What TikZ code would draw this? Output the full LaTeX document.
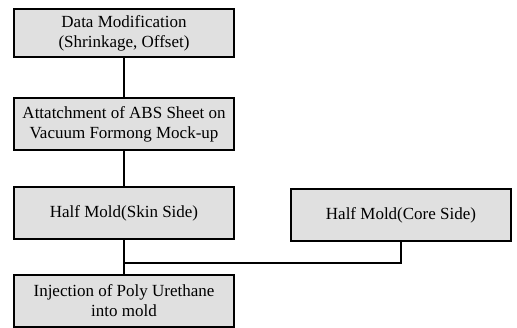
\documentclass[tikz,border=0pt]{standalone}
\usepackage{fontspec}
\setmainfont{Liberation Serif}
\usepackage{tikz}

\begin{document}
\begin{tikzpicture}[x=1pt,y=1pt,yscale=-1,xscale=1,
  stepbox/.style={draw=black,line width=1.2pt,fill=black!12,rectangle,
    minimum width=220pt,minimum height=52pt,inner sep=1pt,align=center,
    font=\fontsize{17}{20}\selectfont}]
\useasboundingbox (0,0) rectangle (517,328);

% Boxes
\node [stepbox,minimum height=48pt] (datamod) at (124,33) {Data Modification\\(Shrinkage, Offset)};
\node [stepbox] (attach) at (124,124) {Attatchment of ABS Sheet on\\Vacuum Formong Mock-up};
\node [stepbox] (skin) at (124,213) {Half Mold(Skin Side)};
\node [stepbox] (core) at (401,215) {Half Mold(Core Side)};
\node [stepbox] (inject) at (124,301) {Injection of Poly Urethane\\into mold};

% Junction
\coordinate (junc) at (124,263);

% Lines
\draw [line width=1.2pt] (datamod) -- (attach);
\draw [line width=1.2pt] (attach) -- (skin);
\draw [line width=1.2pt] (skin) -- (inject);
\draw [line width=1.2pt] (core.south) |- (junc);

\end{tikzpicture}
\end{document}
